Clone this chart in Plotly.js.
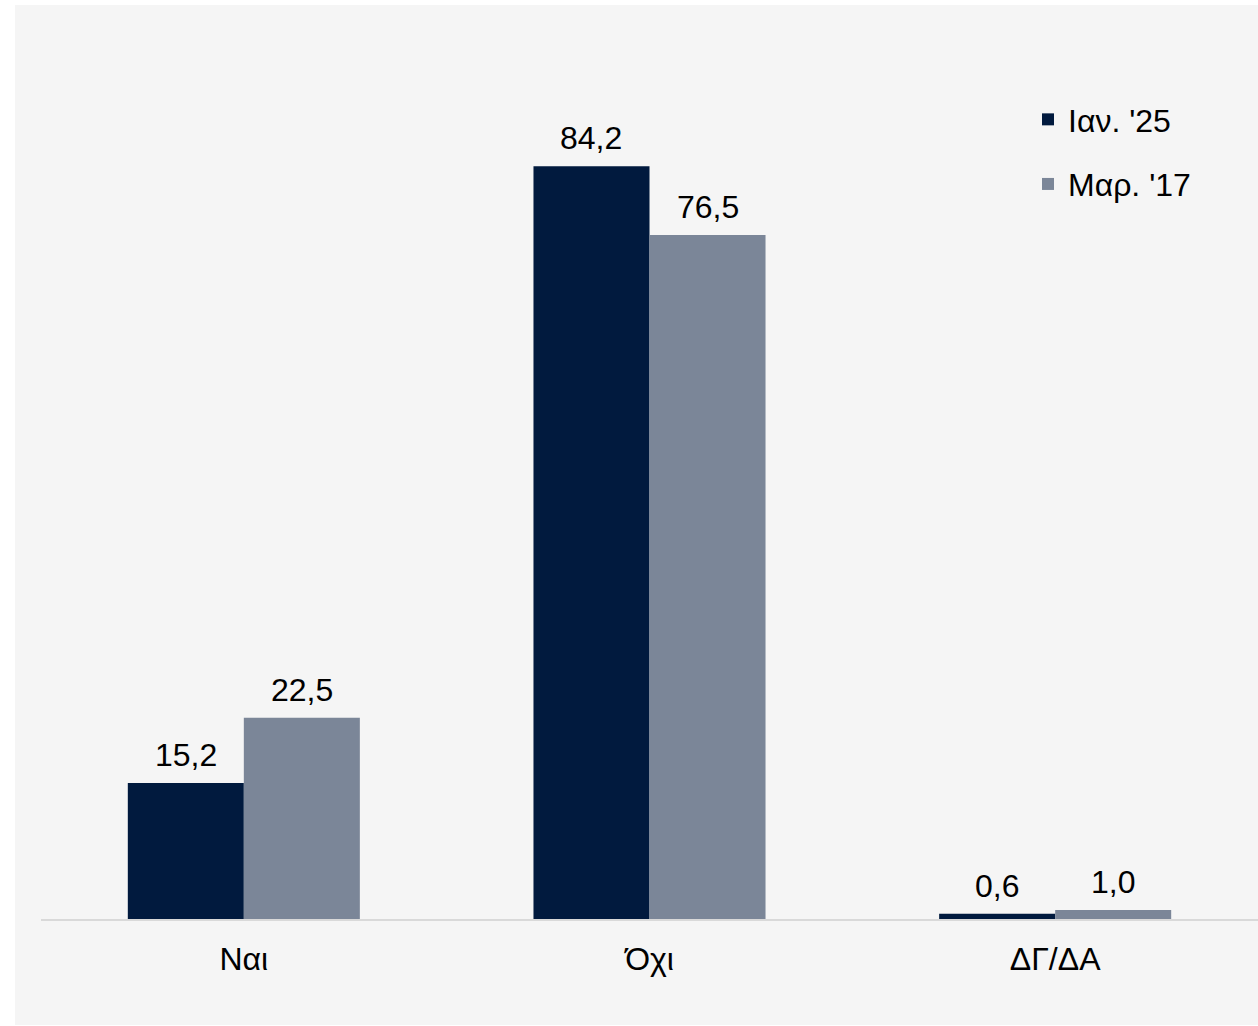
<!DOCTYPE html>
<html>
<head>
<meta charset="utf-8">
<script src="https://cdn.plot.ly/plotly-3.0.1.min.js"></script>
<style>
  html, body { margin: 0; padding: 0; background: #ffffff; }
  #chart { position: absolute; left: 15px; top: 5px; width: 1243px; height: 1020px; }
</style>
</head>
<body>
<div id="chart"></div>
<script>
const categories = ['Ναι', 'Όχι', 'ΔΓ/ΔΑ'];
const seriesNames = ["Ιαν. '25", "Μαρ. '17"];
const valuesJan25 = [15.2, 84.2, 0.6];
const valuesMar17 = [22.5, 76.5, 1.0];
const colors = ['#011a3e', '#7b8698'];

const FONT = 'Liberation Sans, Arial, sans-serif';
const W = 1243, H = 1020;
const M = { l: 26, r: 0, t: 20, b: 106, pad: 0 };
const BARGAP = 0.428;

function barTrace(name, values, color, group) {
  return {
    type: 'bar',
    name: name,
    x: categories,
    y: values,
    legendgroup: group,
    marker: { color: color, line: { width: 0 } },
    hoverinfo: 'skip'
  };
}

const data = [
  barTrace(seriesNames[0], valuesJan25, colors[0], 'g1'),
  barTrace(seriesNames[1], valuesMar17, colors[1], 'g2')
];

// value labels placed over each bar of the group (half bar width offset)
const barPx = (W - M.l - M.r) / categories.length * (1 - BARGAP) / 2;
const annotations = [];
[valuesJan25, valuesMar17].forEach(function (vals, s) {
  const shift = (s === 0 ? -1 : 1) * barPx / 2;
  vals.forEach(function (v, i) {
    annotations.push({
      xref: 'x', yref: 'y',
      x: categories[i], y: v,
      xshift: shift, yshift: 8,
      yanchor: 'bottom', xanchor: 'center',
      text: v.toFixed(1).replace('.', ','),
      showarrow: false,
      font: { family: FONT, size: 32, color: '#000000' }
    });
  });
});

const layout = {
  width: W,
  height: H,
  paper_bgcolor: '#f5f5f5',
  plot_bgcolor: '#f5f5f5',
  separators: ',.',
  margin: M,
  barmode: 'group',
  bargap: BARGAP,
  bargroupgap: 0,
  font: { family: FONT, size: 32, color: '#000000' },
  xaxis: {
    type: 'category',
    showline: true,
    linecolor: '#d9d9d9',
    linewidth: 2,
    showgrid: false,
    zeroline: false,
    ticks: '',
    ticklabelstandoff: 11,
    tickfont: { family: FONT, size: 32, color: '#000000' },
    fixedrange: true
  },
  yaxis: {
    range: [0, 100],
    visible: false,
    showgrid: false,
    zeroline: false,
    fixedrange: true
  },
  annotations: annotations,
  showlegend: true,
  legend: {
    x: 0.811,
    xanchor: 'left',
    y: 0.925,
    yanchor: 'top',
    bgcolor: 'rgba(0,0,0,0)',
    font: { family: FONT, size: 32, color: '#000000' },
    traceorder: 'grouped',
    tracegroupgap: 20,
    itemwidth: 30
  }
};

Plotly.newPlot('chart', data, layout, { displayModeBar: false, staticPlot: true });
</script>
</body>
</html>
